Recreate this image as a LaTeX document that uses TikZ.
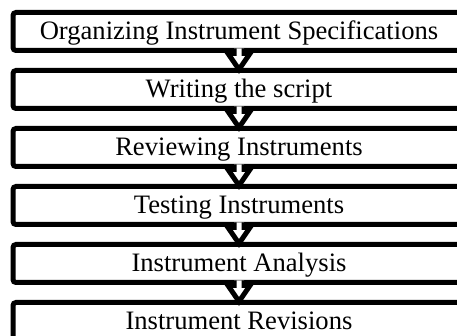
\documentclass[tikz,border=0pt]{standalone}
\usepackage{fontspec}
\setmainfont{Liberation Serif}
\usetikzlibrary{positioning}

% white block arrow from the bottom of one box to the top of the next
\newcommand{\blockarrow}[2]{%
  \filldraw[arrowshape] ([shift={(-5pt,2pt)}]#1.south) -- ([shift={(-5pt,-3pt)}]#1.south)
    -- ([shift={(-11pt,-3pt)}]#1.south) -- ([yshift=1pt]#2.north)
    -- ([shift={(11pt,-3pt)}]#1.south) -- ([shift={(5pt,-3pt)}]#1.south)
    -- ([shift={(5pt,2pt)}]#1.south);}

\begin{document}
\begin{tikzpicture}[x=1pt, y=1pt, node distance=20pt,
  stepbox/.style={rectangle, draw, line width=5pt, rounded corners=3pt, outer sep=0pt,
    minimum width=452pt, minimum height=38pt, inner sep=0pt,
    text height=22pt, text depth=5pt,
    font=\fontsize{26.6}{30}\selectfont},
  arrowshape/.style={line width=5pt, fill=white, draw=black, line join=miter}]

\clip (0,0) rectangle (457,336);

% Steps
\node (organize) [stepbox] at (239,304.5) {Organizing Instrument Specifications};
\node (script) [stepbox, below=of organize] {Writing the script};
\node (review) [stepbox, below=of script] {Reviewing Instruments};
\node (testing) [stepbox, below=of review] {Testing Instruments};
\node (analysis) [stepbox, below=of testing] {Instrument Analysis};
\node (revision) [stepbox, below=of analysis] {Instrument Revisions};

% Arrows
\blockarrow{organize}{script}
\blockarrow{script}{review}
\blockarrow{review}{testing}
\blockarrow{testing}{analysis}
\blockarrow{analysis}{revision}

\end{tikzpicture}
\end{document}
